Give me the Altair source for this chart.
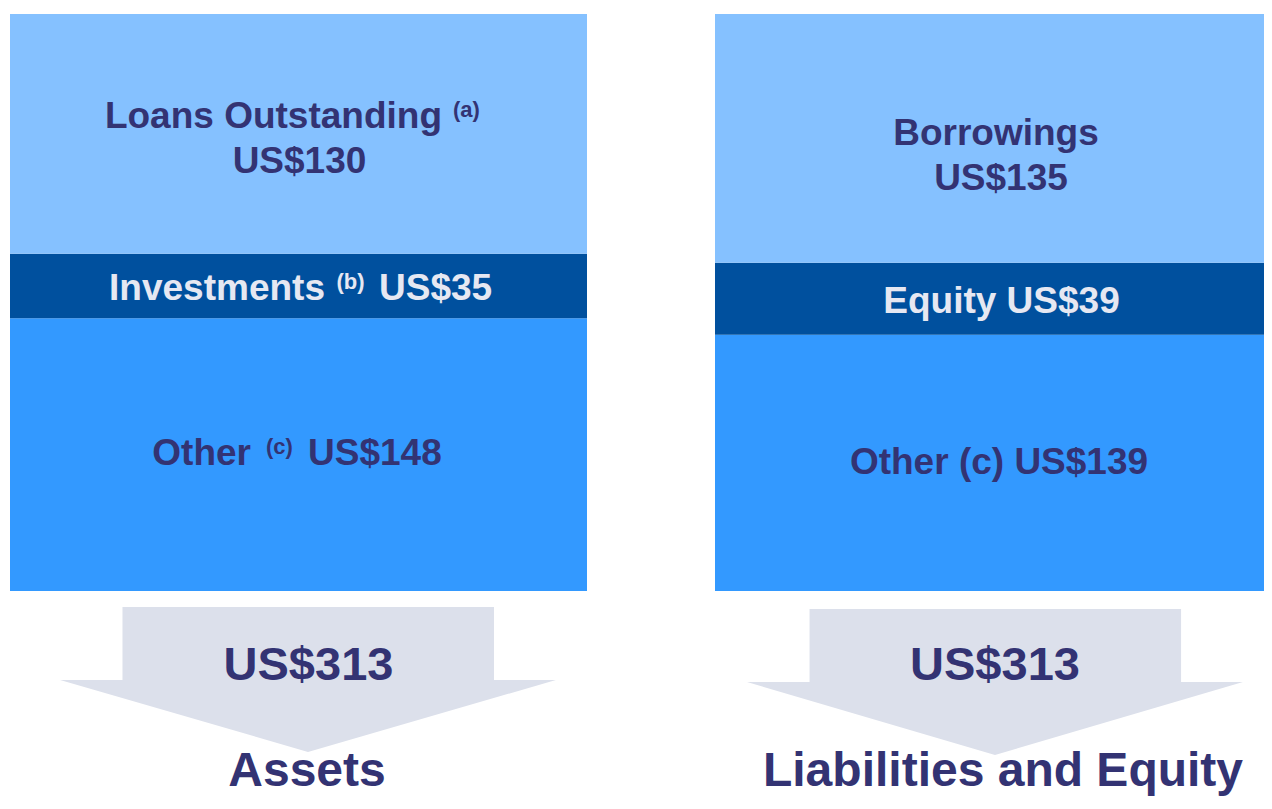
import altair as alt
import pandas as pd

# ---------------- data ----------------
sides = ["Assets", "Liabilities and Equity"]
segment_side = ["Assets", "Assets", "Assets",
                "Liabilities and Equity", "Liabilities and Equity", "Liabilities and Equity"]
segments = ["Loans Outstanding", "Investments", "Other", "Borrowings", "Equity", "Other"]
values = [130, 35, 148, 135, 39, 139]
notes = ["(a)", "(b)", "(c)", "", "", "(c)"]
tiers = ["top", "middle", "bottom", "top", "middle", "bottom"]
totals = [313, 313]

rows = []
for side in sides:
    idx = [i for i, s in enumerate(segment_side) if s == side]
    base = 0
    for i in reversed(idx):  # stack from the bottom up
        rows.append(dict(id=i, side=side, segment=segments[i], value=values[i],
                         note=notes[i], tier=tiers[i], y0=base, y1=base + values[i]))
        base += values[i]
seg = pd.DataFrame(rows)
seg["mid"] = (seg["y0"] + seg["y1"]) / 2
seg["amount"] = "US$" + seg["value"].astype(str)
seg["name_amount"] = seg["segment"] + " " + seg["amount"]
seg["inline"] = seg["segment"] + " " + seg["note"] + " " + seg["amount"]

tot = pd.DataFrame({"side": sides, "total": totals})
tot["base"] = 0
tot["total_label"] = "US$" + tot["total"].astype(str)

# ---------------- styles ----------------
LIGHT = "#85C1FF"
DARK = "#00509E"
MID = "#3399FF"
NAVY = "#333373"
PALE = "#E6E8F2"
ARROW = "#DCE0EB"
FONT = "Liberation Sans"
FS = 37

xs = alt.Scale(domain=sides, range=[2, 1284], paddingInner=0.18156, paddingOuter=0)
ys = alt.Scale(domain=[0, max(totals)], range=[583, 6])
X = alt.X("side:N", scale=xs, axis=None)

bars = alt.Chart(seg).mark_bar().encode(
    x=X,
    y=alt.Y("y1:Q", scale=ys, axis=None),
    y2="y0:Q",
    color=alt.Color("tier:N", scale=alt.Scale(domain=["top", "middle", "bottom"],
                                              range=[LIGHT, DARK, MID]), legend=None),
)

# label pieces: (row id, field, align, dx, dy, size, colour)
pieces = [
    (0, "segment", "right", 143.5, -5.8, FS, NAVY),
    (0, "note", "left", 154.5, -16.8, 22, NAVY),
    (0, "amount", "center", 1, 39.2, FS, NAVY),
    (1, "segment", "right", 26.5, 14.1, FS, PALE),
    (1, "note", "left", 38, 3.1, 22, PALE),
    (1, "amount", "left", 80.5, 14.1, FS, PALE),
    (2, "segment", "right", -47.5, 10.4, FS, NAVY),
    (2, "note", "left", -32.5, -0.6, 22, NAVY),
    (2, "amount", "left", 9.5, 10.4, FS, NAVY),
    (3, "segment", "center", -7.5, 6.6, FS, NAVY),
    (3, "amount", "center", -2.5, 51.6, FS, NAVY),
    (4, "name_amount", "center", -2, 14.2, FS, PALE),
    (5, "inline", "center", -4.5, 11.1, FS, NAVY),
]

layers = [bars]
for rid, field, align, dx, dy, size, col in pieces:
    layers.append(
        alt.Chart(seg).transform_filter(alt.datum.id == rid).mark_text(
            align=align, baseline="alphabetic", dx=dx, dy=dy, fontSize=size,
            font=FONT, fontWeight="bold", color=col,
        ).encode(x=X, y=alt.Y("mid:Q", scale=ys, axis=None), text=alt.Text(f"{field}:N"))
    )

# arrows below each bar (custom symbol paths, unit = 260 px)
arrow_paths = {
    "Assets": "M -0.677 0.0615 L 0.752 0.0615 L 0.752 0.3423 L 0.990 0.3423 "
              "L 0.0365 0.619 L -0.917 0.3423 L -0.677 0.3423 Z",
    "Liabilities and Equity": "M -0.746 0.0692 L 0.683 0.0692 L 0.683 0.35 L 0.921 0.35 "
                              "L -0.0327 0.6308 L -0.9865 0.35 L -0.746 0.35 Z",
}
total_dx = {"Assets": 10, "Liabilities and Equity": -8.5}
title_dx = {"Assets": 8.5, "Liabilities and Equity": -0.5}
title_dy = {"Assets": 195, "Liabilities and Equity": 195}

for side in sides:
    base_chart = alt.Chart(tot).transform_filter(alt.datum.side == side)
    Y0 = alt.Y("base:Q", scale=ys, axis=None)
    layers.append(
        base_chart.mark_point(shape=arrow_paths[side], size=270400, filled=True,
                              color=ARROW, opacity=1, strokeWidth=0).encode(x=X, y=Y0)
    )
    layers.append(
        base_chart.mark_text(align="center", baseline="alphabetic", dx=total_dx[side], dy=89,
                             fontSize=47, font=FONT, fontWeight="bold", color=NAVY)
        .encode(x=X, y=Y0, text="total_label:N")
    )
    layers.append(
        base_chart.mark_text(align="center", baseline="alphabetic", dx=title_dx[side],
                             dy=title_dy[side], fontSize=48, font=FONT, fontWeight="bold",
                             color=NAVY)
        .encode(x=X, y=Y0, text="side:N")
    )

chart = alt.layer(*layers).properties(
    width=1256, height=790, padding=0, autosize="none", background="white"
).configure_view(stroke=None)

chart.save("out.html", embed_options={"renderer": "svg", "actions": False})
